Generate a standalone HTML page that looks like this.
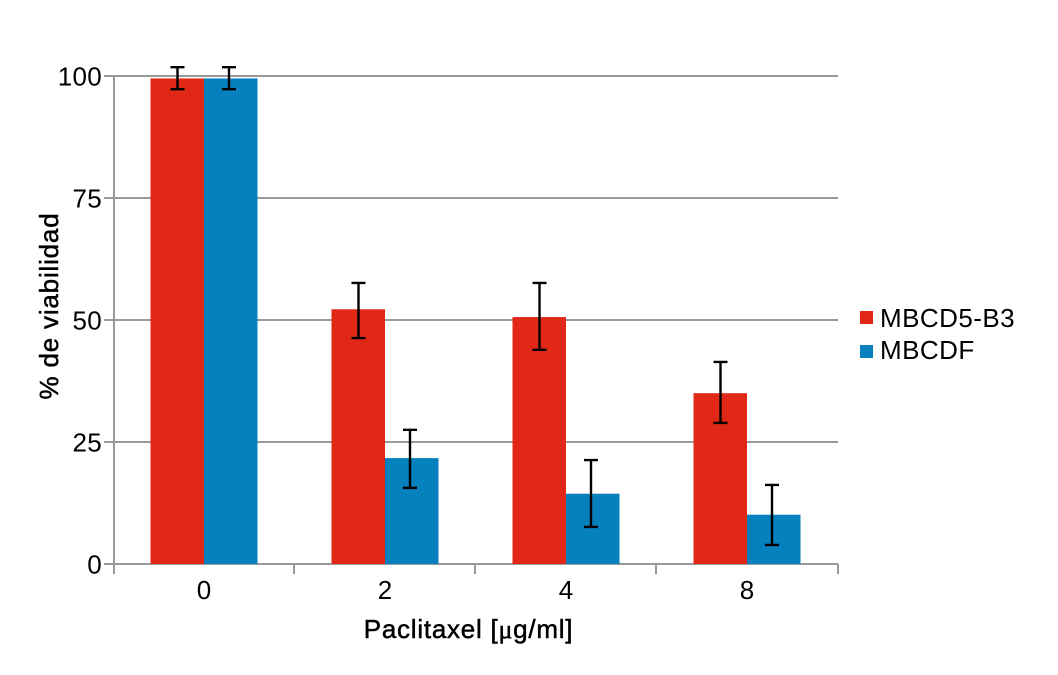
<!DOCTYPE html>
<html lang="es">
<head>
<meta charset="utf-8">
<title>Viabilidad vs Paclitaxel</title>
<style>
html,body{margin:0;padding:0;background:#fff;}
svg{display:block;font-family:"Liberation Sans",Arial,sans-serif;}
</style>
</head>
<body>
<svg id="chart" width="1058" height="675" viewBox="0 0 1058 675" xmlns="http://www.w3.org/2000/svg">
  <rect x="0" y="0" width="1058" height="675" fill="#ffffff"/>
  <g id="grid"></g>
  <g id="bars"></g>
  <g id="axes"></g>
  <g id="errors"></g>
  <g id="labels"></g>
  <text x="468.5" y="638" text-anchor="middle" font-size="26" letter-spacing="0.75" fill="#000" stroke="#000" stroke-width="0.5">Paclitaxel [<tspan font-family="'Liberation Serif',serif">μ</tspan>g/ml]</text>
  <text transform="translate(58,306) rotate(-90)" text-anchor="middle" font-size="26" letter-spacing="0.8" fill="#000" stroke="#000" stroke-width="0.5">% de viabilidad</text>
  <g>
    <g>
      <rect x="860" y="311" width="13" height="13" fill="#e12816"/>
      <text x="880" y="327" font-size="26" letter-spacing="0.45" fill="#000">MBCD5-B3</text>
    </g>
    <g>
      <rect x="860" y="345" width="13" height="13" fill="#0780be"/>
      <text x="880" y="359" font-size="26" letter-spacing="0.45" fill="#000">MBCDF</text>
    </g>
  </g>
</svg>
<script>
const categories = ['0', '2', '4', '8'];
const yTicks = [0, 25, 50, 75, 100];
const redValues = [99.5, 52.2, 50.6, 35.0];
const blueValues = [99.5, 21.7, 14.4, 10.1];
const redErrorHigh = [101.8, 57.6, 57.6, 41.4];
const redErrorLow = [97.3, 46.3, 43.9, 28.9];
const blueErrorHigh = [101.8, 27.5, 21.3, 16.2];
const blueErrorLow = [97.3, 15.6, 7.6, 3.9];

const NS = 'http://www.w3.org/2000/svg';
const plotLeft = 114, plotRight = 838, plotBottom = 564, plotTop = 76;
const barWidth = 53.5;
const yScale = v => plotBottom - (v / 100) * (plotBottom - plotTop);
const xBand = i => plotLeft + (i + 0.5) * (plotRight - plotLeft) / categories.length - 0.5;

function make(parent, tag, attrs) {
  const el = document.createElementNS(NS, tag);
  for (const k in attrs) el.setAttribute(k, attrs[k]);
  document.getElementById(parent).appendChild(el);
  return el;
}

yTicks.forEach(t => {
  const line = make('grid', 'line', {x1: 104, x2: plotRight, y1: yScale(t), y2: yScale(t), stroke: '#999999', 'stroke-width': 2});
  
  
  const label = make('labels', 'text', {x: 102, y: yScale(t) + 9.5, 'text-anchor': 'end', 'font-size': 26, 'letter-spacing': 0.3, fill: '#000'});
  
  
  label.textContent = t;
});

const yAxis = make('axes', 'line', {x1: plotLeft, x2: plotLeft, y1: plotTop, y2: plotBottom + 10, stroke: '#999999', 'stroke-width': 2});



for (let i = 0; i <= categories.length; i++) {
  const inner = i > 0 && i < categories.length;
  const x = plotLeft + i * (plotRight - plotLeft) / categories.length - (inner ? 1 : 0);
  const tick = make('axes', 'line', {x1: x, x2: x, y1: plotBottom, y2: plotBottom + 10, stroke: '#999999', 'stroke-width': 2});
  
  
}

categories.forEach((c, i) => {
  const cx = xBand(i);
  const red = make('bars', 'rect', {x: cx - barWidth, y: yScale(redValues[i]), width: barWidth, height: plotBottom - yScale(redValues[i]), fill: '#e12816'});
  
  
  const blue = make('bars', 'rect', {x: cx, y: yScale(blueValues[i]), width: barWidth, height: plotBottom - yScale(blueValues[i]), fill: '#0780be'});
  
  

  drawError(cx - 26.5, redErrorHigh[i], redErrorLow[i], 'error-bar-mbcd5-b3-' + c);
  drawError(cx + 25, blueErrorHigh[i], blueErrorLow[i], 'error-bar-mbcdf-' + c);

  const label = make('labels', 'text', {x: cx, y: 599, 'text-anchor': 'middle', 'font-size': 26, fill: '#000'});
  
  
  label.textContent = c;
});

function drawError(x, high, low, name) {
  const yh = yScale(high), yl = yScale(low), cap = 7;
  const d = `M${x} ${yh}V${yl}M${x - cap} ${yh}H${x + cap}M${x - cap} ${yl}H${x + cap}`;
  const path = make('errors', 'path', {d: d, stroke: '#000', 'stroke-width': 2.4, fill: 'none'});
  
  
}
</script>
</body>
</html>
